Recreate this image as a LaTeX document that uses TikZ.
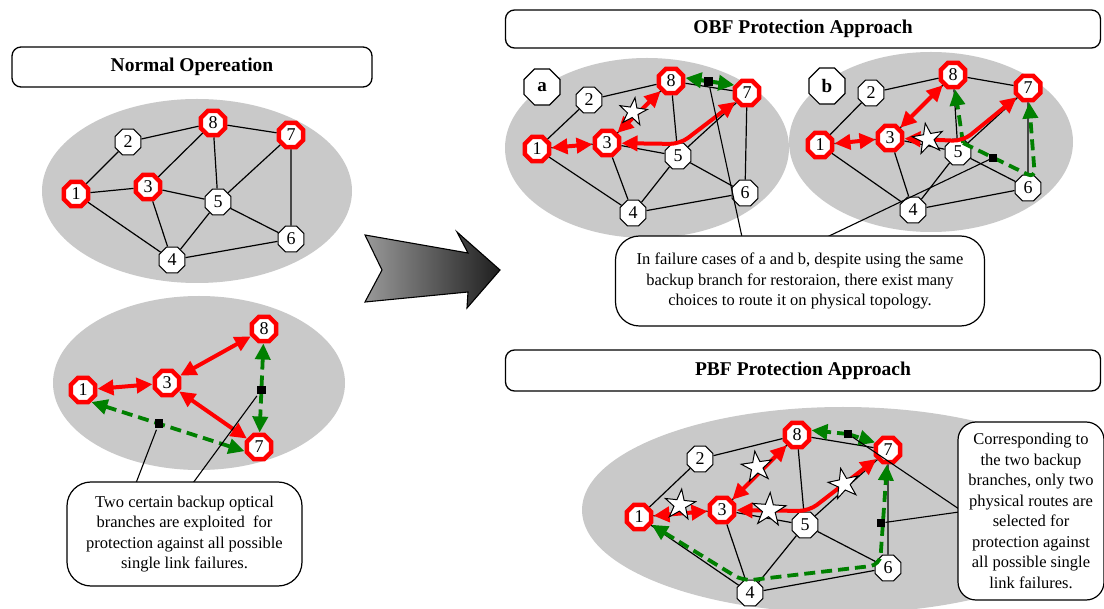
\documentclass[tikz,border=0pt]{standalone}
\usepackage{fontspec}
\setmainfont{Liberation Serif}
\usetikzlibrary{shapes.geometric,arrows.meta,calc}
\begin{document}
\begin{tikzpicture}[x=1pt,y=-1pt,
  >={Triangle[length=16pt,width=15pt]},
  edge/.style={line width=1.2pt},
  wn/.style={regular polygon, regular polygon sides=8, draw, fill=white, line width=1.1pt,
    minimum size=28pt, inner sep=0pt, font=\fontsize{18}{18}\selectfont},
  rn/.style={wn, draw=red, line width=4.5pt, minimum size=26.5pt},
  lbl/.style={wn, minimum size=39pt, font=\fontsize{19}{19}\selectfont\bfseries},
  ra/.style={draw=red, line width=4pt, <->},
  ga/.style={draw=green!50!black, line width=4pt, <->},
  gd/.style={draw=green!50!black, line width=3.8pt, dash pattern=on 11pt off 6pt},
  sq/.style={rectangle, sharp corners, solid, draw=none, fill=black, minimum size=8.5pt, inner sep=0pt},
  fstar/.style={star, star points=5, star point ratio=2.6, draw, fill=white, line width=1pt,
    minimum size=32pt, inner sep=0pt},
  pointer/.style={line width=1.1pt},
  callout/.style={draw, fill=white, line width=1.2pt, rounded corners=24pt, align=center,
    inner sep=0pt, font=\fontsize{16.5}{20.5}\selectfont},
  titlebox/.style={draw, fill=white, line width=1.3pt, rounded corners=9pt,
    font=\fontsize{19.5}{20}\selectfont\bfseries},
  cloud/.style={fill=black!21}
]
\useasboundingbox (0,0) rectangle (1104,609);
\fill[white] (0,0) rectangle (1104,609);
\clip (0,0) rectangle (1104,609);

% title boxes
\node[titlebox, minimum width=360pt, minimum height=40pt] (tnorm) at (192,67) {Normal Opereation};
\node[titlebox, minimum width=595pt, minimum height=38pt] (tobf) at (803,29) {OBF Protection Approach};
\node[titlebox, minimum width=595pt, minimum height=41pt] (tpbf) at (803,370.5) {PBF Protection Approach};

% grey clouds behind the graphs
\fill[cloud] (197,191) ellipse [x radius=155pt, y radius=92pt];
\fill[cloud] (199,383) ellipse [x radius=146pt, y radius=87pt];
\fill[cloud] (647,148) ellipse [x radius=142pt, y radius=90pt];
\fill[cloud] (931,142) ellipse [x radius=142pt, y radius=90pt];
\fill[cloud] (843,510) ellipse [x radius=261pt, y radius=103pt];

% transition arrow
\shade[left color=black!40, right color=black!88, draw=black, line width=1.1pt]
  (365,235) -- (468,253) -- (457,232) -- (500,270) -- (467,308) -- (468,292)
  -- (365,302) -- (382,270) -- cycle;

% ---------- normal operation ----------
\node[rn] (n1) at (76,194) {1};
\node[wn] (n2) at (128,142) {2};
\node[rn] (n3) at (148,187) {3};
\node[wn] (n4) at (172,260) {4};
\node[wn] (n5) at (218,202) {5};
\node[wn] (n6) at (291,239) {6};
\node[rn] (n7) at (291,135) {7};
\node[rn] (n8) at (213,123) {8};

% ---------- OBF case a ----------
\node[lbl] (la) at (542,87) {a};
\node[rn] (a1) at (537,149) {1};
\node[wn] (a2) at (589,100) {2};
\node[rn] (a3) at (607,143) {3};
\node[wn] (a4) at (633,213) {4};
\node[wn] (a5) at (678,156) {5};
\node[wn] (a6) at (745,193) {6};
\node[rn] (a7) at (747,93) {7};
\node[rn] (a8) at (671,81) {8};

% ---------- OBF case b ----------
\node[lbl] (lb) at (827,86) {b};
\node[rn] (b1) at (820,145) {1};
\node[wn] (b2) at (871,93) {2};
\node[rn] (b3) at (890,138) {3};
\node[wn] (b4) at (913,210) {4};
\node[wn] (b5) at (958,152) {5};
\node[wn] (b6) at (1028,188) {6};
\node[rn] (b7) at (1028,88) {7};
\node[rn] (b8) at (953,75) {8};

% ---------- PBF ----------
\node[rn] (p1) at (639,517) {1};
\node[wn] (p2) at (700,459) {2};
\node[rn] (p3) at (722,510) {3};
\node[wn] (p4) at (750,593) {4};
\node[wn] (p5) at (805,525) {5};
\node[wn] (p6) at (888,568) {6};
\node[rn] (p7) at (888,450) {7};
\node[rn] (p8) at (797,435) {8};

% physical links, same topology in every graph
\foreach \g in {n,a,b,p}
  \foreach \u/\v in {1/2,1/3,1/4,2/8,3/8,8/5,8/7,7/5,7/6,3/5,3/4,5/4,5/6,4/6}
    \draw[edge] (\g\u) -- (\g\v);

% ---------- logical view ----------
\node[rn] (l1) at (83,390) {1};
\node[rn] (l3) at (167,383) {3};
\node[rn] (l7) at (259,447) {7};
\node[rn] (l8) at (264,329) {8};
\draw[ra] (l1) -- (l3);
\draw[ra] (l3) -- (l8);
\draw[ra] (l3) -- (l7);
\draw[gd,<->] (l8) -- node[sq, pos=0.52] (lq1) {} (l7);
\draw[gd,<->] (l1.-55) -- node[sq, pos=0.44] (lq2) {} (l7.196);

% ---------- working and backup paths, case a ----------
\coordinate (abend) at (680,144);
\draw[ra] (a1) -- (a3);
\draw[ra] (a3) -- (a8);
\draw[ra, rounded corners=10pt] (a3) -- (abend) -- (a7);
\draw[ga] (a8.12) -- node[sq, pos=0.47] (aq) {} (a7.148);
\node[fstar, rotate=-8, minimum size=29pt] (sa) at (633,112) {};

% ---------- case b ----------
\coordinate (bbend) at (963,141);
\coordinate (bj) at (963,143);
\coordinate (bturn) at (1035,178);
\draw[gd,->] (bj) -- (b8);
\draw[gd,->, rounded corners=8pt] (bj) -- (bturn) -- (b7);
\node[sq, minimum size=8pt] (bq) at ($(bj)!0.42!(bturn)$) {};
\draw[ra] (b1) -- (b3);
\draw[ra] (b3) -- (b8);
\draw[ra, rounded corners=10pt] (b3) -- (bbend) -- (b7);
\node[fstar, rotate=10, minimum size=32pt] (sb) at (928,139) {};

% ---------- PBF paths ----------
\coordinate (pbend) at (809,511);
\coordinate (pg1) at (743,581);
\coordinate (pg2) at (880,565);
\coordinate (pq1) at (848,434);
\coordinate (pr1) at (881,523);
\draw[gd,->] (pq1) -- (p8.18);
\draw[gd,->] (pq1) -- (p7.150);
\node[sq] (pq) at (pq1) {};
\draw[gd,<->, rounded corners=10pt] (p1) -- (pg1) -- (pg2) -- (p7);
\node[sq] (pr) at (pr1) {};
\draw[ra] (p1) -- (p3);
\draw[ra] (p3) -- (p8);
\draw[ra, rounded corners=10pt] (p3) -- (pbend) -- (p7);
\node[fstar, rotate=-6] (ps1) at (680,505) {};
\node[fstar, rotate=8] (ps2) at (757,467) {};
\node[fstar, rotate=-4, minimum size=35pt] (ps3) at (769,510) {};
\node[fstar, rotate=12] (ps4) at (844,484) {};

% ---------- callouts ----------
\coordinate (cl1) at (136,483);
\coordinate (cl2) at (193,483);
\coordinate (co1) at (742,237);
\coordinate (co2) at (827,237);
\coordinate (cp1) at (959,509);
\coordinate (cp2) at (959,512);
\draw[pointer] (lq2) -- (cl1);
\draw[pointer] (lq1) -- (cl2);
\draw[pointer] (aq) -- (co1);
\draw[pointer] (bq) -- (co2);
\draw[pointer] (pq) -- (cp1);
\draw[pointer] (pr) -- (cp2);

\node[callout, minimum width=235pt, minimum height=104pt] (cleft) at (184.5,534)
  {Two certain backup optical\\ branches are exploited\ \ for\\ protection against all possible\\ single link failures.};
\node[callout, minimum width=369pt, minimum height=90pt] (cobf) at (800,281)
  {In failure cases of a and b, despite using the same\\ backup branch for restoraion, there exist many\\ choices to route it on physical topology.};
\node[callout, rounded corners=18pt, minimum width=146pt, minimum height=178pt] (cpbf) at (1031,511)
  {Corresponding to\\ the two backup\\ branches, only two\\ physical routes are\\ selected for\\ protection against\\ all possible single\\ link failures.};
\end{tikzpicture}
\end{document}
